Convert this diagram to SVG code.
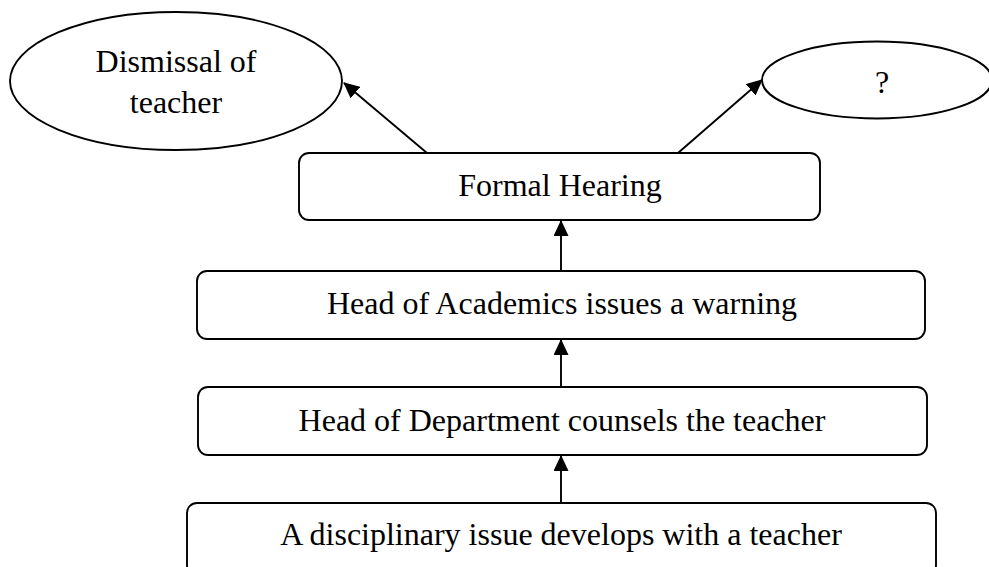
<svg xmlns="http://www.w3.org/2000/svg" width="989" height="567" viewBox="0 0 989 567">
<style>
.shape{fill:#fff;stroke:#000;stroke-width:1.9}
.lbl{font-family:"Liberation Serif","Times New Roman",serif;font-size:32px;fill:#000;text-anchor:middle}
.edge{stroke:#000;stroke-width:1.9;fill:none;marker-end:url(#ah)}
</style>
<defs>
<marker id="ah" markerWidth="16" markerHeight="15" refX="15" refY="7.5" orient="auto" markerUnits="userSpaceOnUse">
<path d="M0,0 L16,7.5 L0,15 Z" fill="#000"/>
</marker>
</defs>
<rect width="989" height="567" fill="#fff"/>
<g id="connectors">
<line class="edge" x1="561" y1="503" x2="561" y2="456"/>
<line class="edge" x1="561" y1="387" x2="561" y2="340"/>
<line class="edge" x1="561" y1="271" x2="561" y2="221"/>
<line class="edge" x1="427" y1="153" x2="344" y2="83"/>
<line class="edge" x1="678" y1="153" x2="762" y2="80"/>
</g>
<g id="dismissal">
<ellipse class="shape" cx="176" cy="81" rx="166" ry="69"/>
<text class="lbl" x="176" y="72">Dismissal of</text>
<text class="lbl" x="176" y="113">teacher</text>
</g>
<g id="unknown">
<ellipse class="shape" cx="877" cy="80" rx="115" ry="38.5"/>
<text class="lbl" x="882" y="93">?</text>
</g>
<g id="formal-hearing">
<rect class="shape" x="299" y="153" width="521" height="67" rx="10"/>
<text class="lbl" x="560" y="196">Formal Hearing</text>
</g>
<g id="academics">
<rect class="shape" x="197" y="271" width="728" height="68" rx="10"/>
<text class="lbl" x="562" y="314">Head of Academics issues a warning</text>
</g>
<g id="department">
<rect class="shape" x="198" y="387" width="729" height="68" rx="10"/>
<text class="lbl" x="562" y="431">Head of Department counsels the teacher</text>
</g>
<g id="issue">
<rect class="shape" x="187" y="503" width="749" height="72" rx="10"/>
<text class="lbl" x="561" y="545">A disciplinary issue develops with a teacher</text>
</g>
</svg>
